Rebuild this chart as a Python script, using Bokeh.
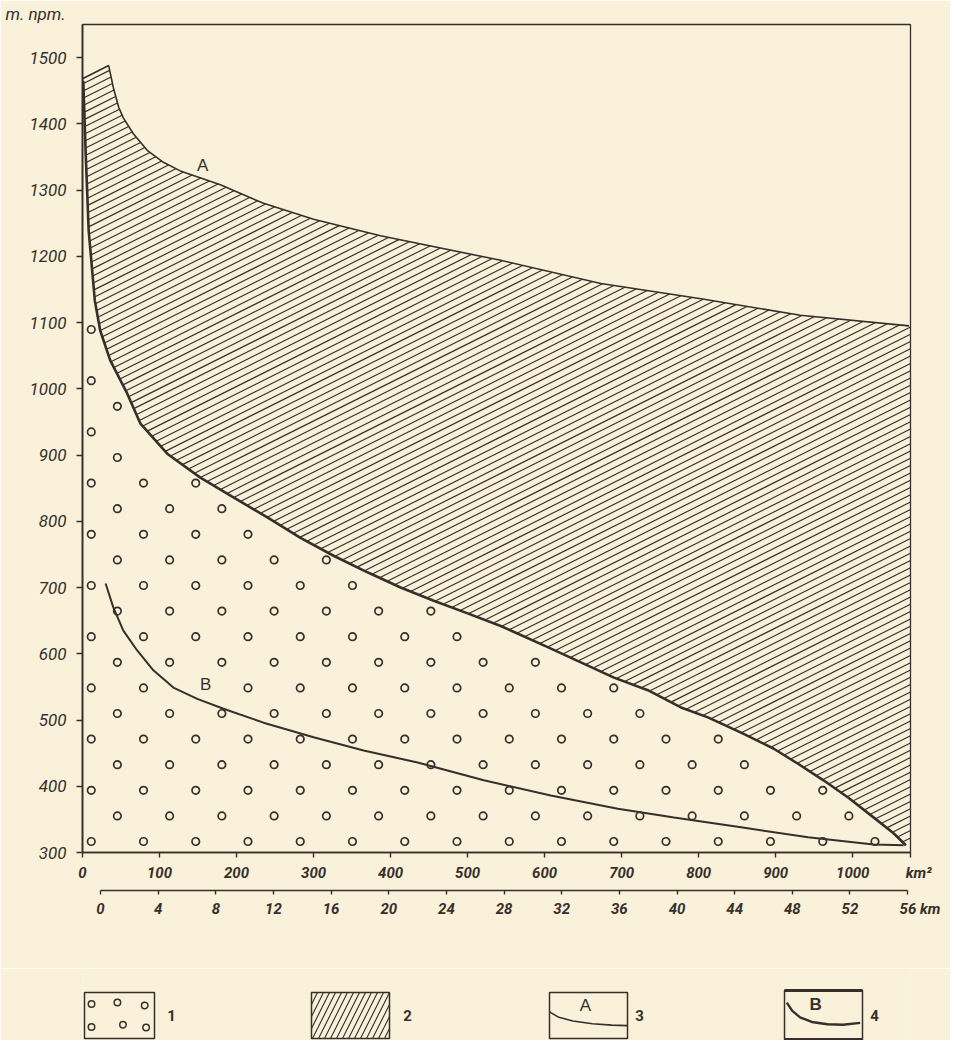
import numpy as np
from bokeh.plotting import figure
from bokeh.models import Range1d, LinearAxis, FixedTicker, Label
from bokeh.layouts import column
from bokeh.embed import file_html
from bokeh.resources import INLINE
from bokeh.core.properties import value

# ---------------- data ----------------
area_ticks = list(range(0, 1001, 100))          # km^2
elev_ticks = list(range(300, 1501, 100))        # m n.p.m.
length_ticks = list(range(0, 57, 4))            # km

# curve A (upper limit of hatched area)
curve_a_area = [0, 34, 40, 47, 53, 66, 84, 105, 127, 179, 235, 300, 387, 543, 673, 803, 932, 1073]
curve_a_elev = [1468, 1488, 1455, 1425, 1409, 1385, 1360, 1342, 1329, 1308, 1280, 1256, 1231, 1194, 1159, 1136, 1111, 1095]

# thick boundary between dotted (1) and hatched (2) areas
curve_c_area = [1, 4, 8, 16, 23, 36, 58, 75, 110, 153, 196, 240, 283, 326, 370, 413, 456, 500,
                543, 604, 647, 690, 734, 777, 812, 855, 897, 929, 962, 994, 1027, 1053, 1069]
curve_c_elev = [1465, 1360, 1239, 1133, 1088, 1043, 993, 948, 902, 866, 836, 806, 775, 748, 723, 700, 680, 661,
                642, 610, 587, 564, 545, 519, 504, 481, 457, 434, 409, 383, 353, 329, 311]

# curve B
curve_b_area = [30, 40, 53, 71, 92, 118, 149, 183, 235, 300, 365, 435, 521, 608, 695, 768, 855, 942, 1027, 1066]
curve_b_elev = [706, 670, 635, 605, 575, 549, 532, 517, 496, 474, 454, 436, 409, 386, 366, 353, 338, 323, 312, 311]

# curve labels (position in data units)
curve_labels = ["A", "B"]
curve_label_area = [156, 160]
curve_label_elev = [1337, 553]

legend_labels = ["1", "2", "3", "4"]

# ---------------- style ----------------
BG = "#FAF1DA"
INK = "#35302B"
FONT = "Roboto"
X_END = 1075
Y_START, Y_END = 300, 1550

W = 950
FRAME_L, FRAME_T, FRAME_W, FRAME_H = 82, 24, 828, 828
MAIN_H = 968
SX = FRAME_W / X_END                 # px per km2
SY = FRAME_H / (Y_END - Y_START)     # px per m

p = figure(width=W, height=MAIN_H, x_range=Range1d(0, X_END), y_range=Range1d(Y_START, Y_END),
           output_backend="svg", toolbar_location=None,
           min_border_left=FRAME_L, min_border_right=W - FRAME_L - FRAME_W,
           min_border_top=FRAME_T, min_border_bottom=MAIN_H - FRAME_T - FRAME_H,
           background_fill_color=BG, border_fill_color=BG,
           outline_line_color=INK, outline_line_width=1.3)
p.grid.visible = False
p.extra_x_ranges = {"km": Range1d(-1.25, 56.2)}

# title used as the y unit label
p.title.text = "m. npm."
p.title.align = "left"
p.title.offset = -77
p.title.standoff = 2
p.title.text_font = FONT
p.title.text_font_style = "italic"
p.title.text_font_size = "17px"
p.title.text_color = INK

# ---- hatching of area 2 (diagonal lines, clipped between curve C and curve A) ----
ax_ = np.array(curve_a_area, float); ay_ = np.array(curve_a_elev, float)
cx_ = np.array(curve_c_area, float); cy_ = np.array(curve_c_elev, float)
xs = np.linspace(0, X_END, 6000)
upper = np.interp(xs, ax_, ay_)
lower = np.interp(xs, cx_, cy_)
slope = 0.5 * SX / SY            # rises 0.5 px per px
step = 7.3 / SY                  # vertical spacing in px
hx0, hy0, hx1, hy1 = [], [], [], []
e0 = Y_START - slope * X_END
while e0 < Y_END:
    yl = e0 + slope * xs
    inside = (yl > lower) & (yl < upper)
    if inside.any():
        d = np.diff(inside.astype(int))
        starts = list(np.where(d == 1)[0] + 1)
        ends = list(np.where(d == -1)[0])
        if inside[0]:
            starts = [0] + starts
        if inside[-1]:
            ends = ends + [len(xs) - 1]
        for s, e in zip(starts, ends):
            hx0.append(xs[s]); hy0.append(yl[s]); hx1.append(xs[e]); hy1.append(yl[e])
    e0 += step
p.segment(x0=hx0, y0=hy0, x1=hx1, y1=hy1, line_color=INK, line_width=1.15)

# ---- rings of area 1 (staggered lattice below curve C) ----
cpx = cx_ * SX
cpy = (cy_ - Y_START) * SY


def dist_to_c(px, py):
    x0, y0, x1, y1 = cpx[:-1], cpy[:-1], cpx[1:], cpy[1:]
    vx, vy = x1 - x0, y1 - y0
    t = np.clip(((px - x0) * vx + (py - y0) * vy) / (vx * vx + vy * vy), 0, 1)
    return np.min(np.hypot(x0 + t * vx - px, y0 + t * vy - py))


def near_label(px, py):
    for la, le in zip(curve_label_area, curve_label_elev):
        if abs(px - la * SX) < 13 and abs(py - (le - Y_START) * SY) < 13:
            return True
    return False


row_step = 25.6 / SY
col_step = 52.25 / SX
first_row = Y_START + 11 / SY
first_col = 79.2
dx_, dy_ = [], []
k = 0
while first_row + k * row_step < Y_END:
    ey = first_row + k * row_step
    xx = first_col + (k % 2) * col_step / 2 - 2 * col_step
    while xx < X_END:
        lim = np.interp(xx, cx_, cy_, right=Y_START)
        ppx, ppy = xx * SX, (ey - Y_START) * SY
        if xx > 5 / SX and ey < lim and dist_to_c(ppx, ppy) > 6.5 and not near_label(ppx, ppy):
            dx_.append(xx); dy_.append(ey)
        xx += col_step
    k += 1
p.scatter(dx_, dy_, marker="circle", size=7.5, fill_color=None, line_color=INK, line_width=1.7)

# ---- curves ----
p.line(curve_a_area, curve_a_elev, line_color=INK, line_width=1.6)
p.line(curve_c_area, curve_c_elev, line_color=INK, line_width=2.6)
p.line(curve_b_area, curve_b_elev, line_color=INK, line_width=2.0)

# ---- axes ----
xa = p.xaxis[0]
xa.ticker = FixedTicker(ticks=area_ticks + [X_END])
xa.major_label_overrides = {X_END: "\u2007\u2007km\u00b2"}
xa.major_tick_out = 5
xa.major_tick_in = 0
xa.minor_tick_line_color = None
xa.axis_line_width = 1.6
xa.axis_line_color = INK
xa.major_tick_line_color = INK
xa.major_tick_line_width = 1.4
xa.major_label_standoff = 6
xa.major_label_text_font = FONT
xa.major_label_text_font_style = "bold italic"
xa.major_label_text_font_size = "15px"
xa.major_label_text_color = INK
xa.axis_label = "\u00a0"
xa.axis_label_text_font_size = "2px"
xa.axis_label_standoff = 1

ya = p.yaxis[0]
ya.ticker = FixedTicker(ticks=elev_ticks)
ya.major_tick_out = 6
ya.major_tick_in = 0
ya.minor_tick_line_color = None
ya.axis_line_width = 1.8
ya.axis_line_color = INK
ya.major_tick_line_color = INK
ya.major_tick_line_width = 1.4
ya.major_label_standoff = 10
ya.major_label_text_font = FONT
ya.major_label_text_font_style = "italic"
ya.major_label_text_font_size = "17px"
ya.major_label_text_color = INK

km_axis = LinearAxis(x_range_name="km", ticker=FixedTicker(ticks=length_ticks), bounds=(0, 56))
km_axis.major_label_overrides = {56: "\u2007\u2007\u200756 km"}
km_axis.major_tick_out = 4
km_axis.major_tick_in = 0
km_axis.minor_tick_line_color = None
km_axis.axis_line_width = 1.6
km_axis.axis_line_color = INK
km_axis.major_tick_line_color = INK
km_axis.major_tick_line_width = 1.4
km_axis.major_label_standoff = 5
km_axis.major_label_text_font = FONT
km_axis.major_label_text_font_style = "bold italic"
km_axis.major_label_text_font_size = "15px"
km_axis.major_label_text_color = INK
p.add_layout(km_axis, "below")

# curve labels
for txt, la, le in zip(curve_labels, curve_label_area, curve_label_elev):
    p.add_layout(Label(x=la, y=le, text=txt, text_font="Liberation Sans", text_font_size="17px",
                       text_color=INK, text_align="center", text_baseline="middle"))

# ---------------- legend ----------------
# the column aligns this figure's frame with the main frame: x data = page pixels
LG_H = 72
lg = figure(width=W, height=LG_H, x_range=Range1d(FRAME_L, FRAME_L + FRAME_W), y_range=Range1d(LG_H, 0),
            x_axis_type=None, y_axis_type=None, output_backend="svg", toolbar_location=None,
            min_border_left=FRAME_L, min_border_right=W - FRAME_L - FRAME_W,
            min_border_top=0, min_border_bottom=0,
            background_fill_color=BG, border_fill_color=BG, outline_line_color=None)
lg.grid.visible = False

box_left = [84, 311, 549, 784]
box_w = [70, 78, 78, 78]
top, bot = 24, 70
bh = bot - top

# box 1 : rings
b1l, b1r = box_left[0], box_left[0] + box_w[0]
lg.quad(left=[b1l], right=[b1r], top=[top], bottom=[bot],
        fill_color=None, line_color=INK, line_width=1.5)
d_fx = [0.1, 0.47, 0.86, 0.1, 0.55, 0.88]
d_fy = [0.25, 0.22, 0.28, 0.75, 0.7, 0.76]
lg.scatter([b1l + f * box_w[0] for f in d_fx], [top + f * bh for f in d_fy],
           marker="circle", size=6.5, fill_color=None, line_color=INK, line_width=1.5)

# box 2 : steep hatching
L2, R2 = box_left[1], box_left[1] + box_w[1]
sx0, sy0, sx1, sy1 = [], [], [], []
x0 = L2 - bh / 2
while x0 < R2:
    t0 = max(0.0, (L2 - x0) / (bh / 2))
    t1 = min(1.0, (R2 - x0) / (bh / 2))
    if t0 < t1:
        sx0.append(x0 + t0 * bh / 2); sy0.append(bot - t0 * bh)
        sx1.append(x0 + t1 * bh / 2); sy1.append(bot - t1 * bh)
    x0 += 6
lg.segment(x0=sx0, y0=sy0, x1=sx1, y1=sy1, line_color=INK, line_width=1.1)
lg.quad(left=[L2], right=[R2], top=[top], bottom=[bot],
        fill_color=None, line_color=INK, line_width=1.5)

# box 3 : curve A
L3, R3 = box_left[2], box_left[2] + box_w[2]
lg.quad(left=[L3], right=[R3], top=[top], bottom=[bot],
        fill_color=None, line_color=INK, line_width=1.5)
ca_fx = [0.0, 0.12, 0.3, 0.55, 0.8, 1.0]
ca_fy = [0.42, 0.54, 0.62, 0.68, 0.71, 0.72]
lg.line([L3 + f * box_w[2] for f in ca_fx], [top + f * bh for f in ca_fy],
        line_color=INK, line_width=1.6)
lg.text([L3 + 0.46 * box_w[2]], [top + 0.28 * bh], text=["A"],
        text_font=value("Liberation Sans"), text_font_size="17px", text_color=INK,
        text_align="center", text_baseline="middle")

# box 4 : curve B
L4, R4 = box_left[3], box_left[3] + box_w[3]
lg.quad(left=[L4], right=[R4], top=[top - 2], bottom=[bot + 1],
        fill_color=None, line_color=INK, line_width=1.5)
lg.segment(x0=[L4, L4], y0=[top - 2, bot + 1], x1=[R4, R4], y1=[top - 2, bot + 1],
           line_color=INK, line_width=3)
cb_fx = [0.03, 0.1, 0.2, 0.35, 0.55, 0.75, 0.97]
cb_fy = [0.22, 0.4, 0.54, 0.64, 0.69, 0.7, 0.66]
lg.line([L4 + f * box_w[3] for f in cb_fx], [top + f * bh for f in cb_fy],
        line_color=INK, line_width=2.4)
lg.text([L4 + 0.4 * box_w[3]], [top + 0.25 * bh], text=["B"],
        text_font=value("Liberation Sans"), text_font_size="17px", text_font_style="bold",
        text_color=INK, text_align="center", text_baseline="middle")

label_x = [b1l + box_w[0] + 17, R2 + 18, R3 + 12, R4 + 12]
lg.text(label_x, [47] * 4, text=legend_labels,
        text_font=value(FONT), text_font_size="15px", text_font_style="bold",
        text_color=INK, text_align="center", text_baseline="middle")

layout = column(p, lg, spacing=0)
open("out.html", "w").write(file_html(layout, INLINE))
